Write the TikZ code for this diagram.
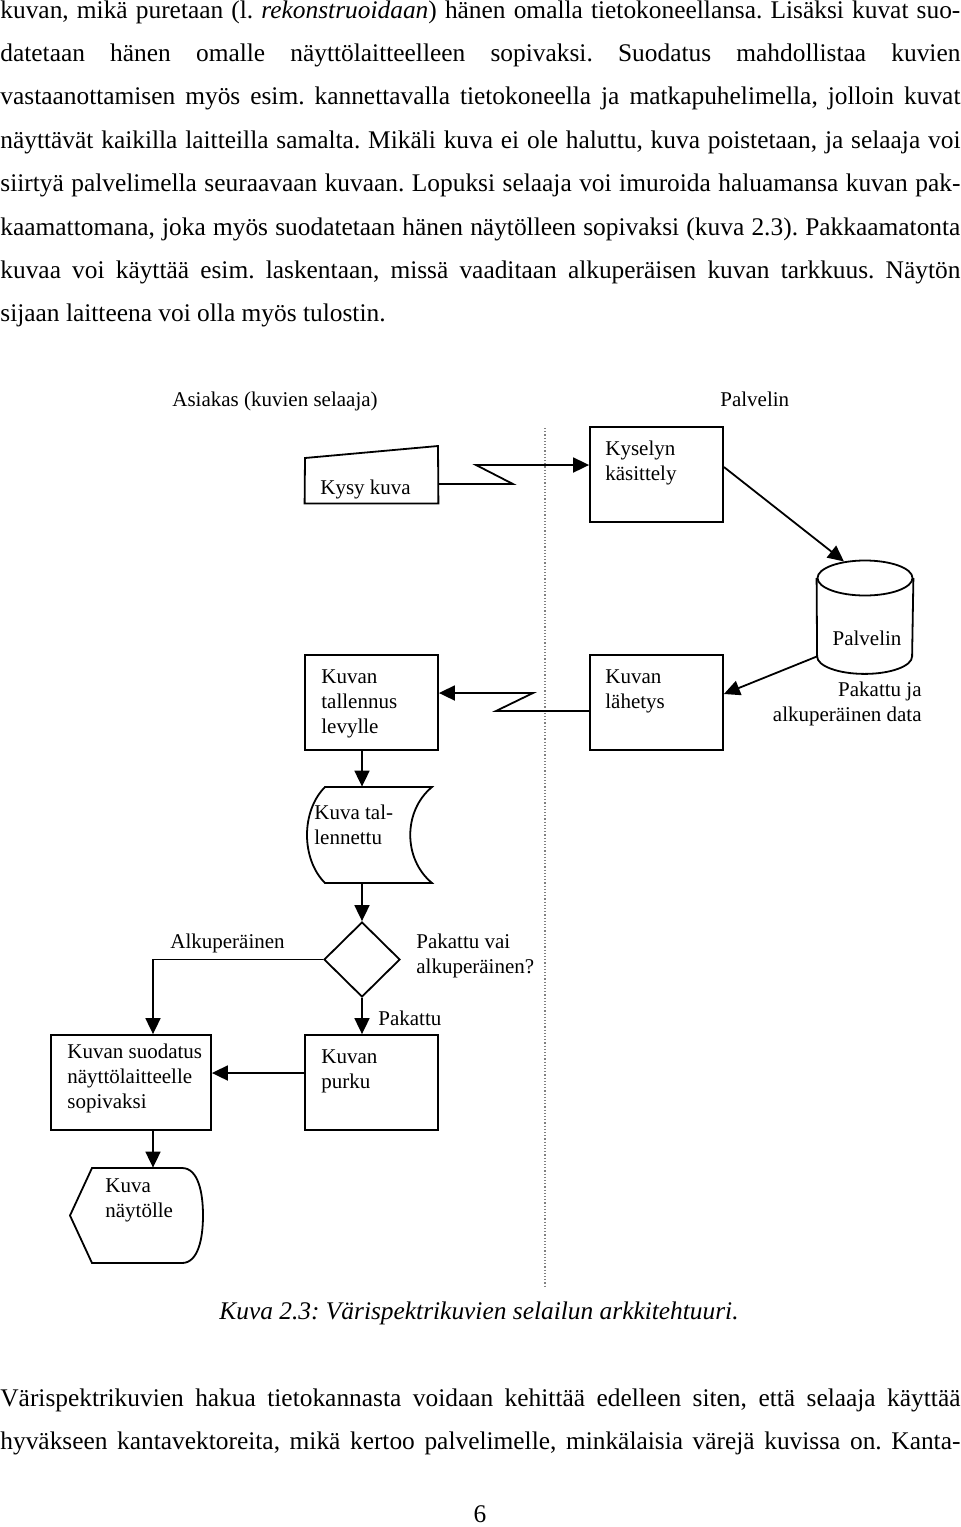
\documentclass[tikz,border=0pt]{standalone}
\usepackage{fontspec}
\setmainfont{Liberation Serif}
\usetikzlibrary{arrows.meta,shapes.geometric,calc}

\frenchspacing
\newcommand\textfnt{\fontsize{12.7pt}{21.65pt}\selectfont}
\newcommand\diagfnt{\fontsize{10.5pt}{12.5pt}\selectfont}
\newcommand\fullline[1]{\hbox to 480pt{#1}}

\tikzset{
  conn/.style={line width=0.9pt,-{Triangle[length=8pt,width=7.5pt]}},
  outline/.style={line width=0.9pt},
  procbox/.style={draw,line width=0.9pt,minimum width=66.5pt,minimum height=47.5pt,inner sep=0pt},
  ghost/.style={inner sep=0pt},
  boxtext/.style={anchor=base west,align=left,inner sep=0pt,font=\diagfnt},
  bodyline/.style={anchor=base west,inner sep=0pt,font=\textfnt},
}

\begin{document}
\begin{tikzpicture}[x=0.5pt,y=0.5pt]
\useasboundingbox (0,0) rectangle (960,-1527);

% text above the figure
\foreach \ln [count=\n] in {{kuvan, mikä puretaan (l. \textit{rekonstruoidaan}) hänen omalla tietokoneellansa. Lisäksi kuvat suo-},
  {datetaan hänen omalle näyttölaitteelleen sopivaksi. Suodatus mahdollistaa kuvien},
  {vastaanottamisen myös esim. kannettavalla tietokoneella ja matkapuhelimella, jolloin kuvat},
  {näyttävät kaikilla laitteilla samalta. Mikäli kuva ei ole haluttu, kuva poistetaan, ja selaaja voi},
  {siirtyä palvelimella seuraavaan kuvaan. Lopuksi selaaja voi imuroida haluamansa kuvan pak-},
  {kaamattomana, joka myös suodatetaan hänen näytölleen sopivaksi (kuva 2.3). Pakkaamatonta},
  {kuvaa voi käyttää esim. laskentaan, missä vaaditaan alkuperäisen kuvan tarkkuus. Näytön}}
  \node[bodyline] (ylarivi\n) at (0,{-18-43.4*(\n-1)}) {\fullline{\ln}};
\node[bodyline] (ylarivi8) at (0,-321.8) {sijaan laitteena voi olla myös tulostin.};

% lanes
\node[boxtext] (asiakas) at (172,-406) {Asiakas (kuvien selaaja)};
\node[boxtext] (palvelinpuoli) at (720,-406) {Palvelin};
\draw[densely dotted,line width=0.6pt,gray] (545,-428) -- (545,-1287);

% request (text anchors sit on the last line)
\node[ghost,minimum width=66.5pt,minimum height=19pt] (kysy) at (371.5,-484) {};
\draw[outline] (kysy.south west) -- (kysy.south east) -- (438,-446) -- (305,-458) -- cycle;
\node[boxtext] at (320,-494) {Kysy kuva};

\node[procbox] (kysely) at (656.5,-474.5) {};
\node[boxtext] at (605,-480) {Kyselyn\\käsittely};

\coordinate (salama1a) at (513,-484);
\coordinate (salama1b) at (476,-465);
\draw[conn] (kysy.east) -- (salama1a) -- (salama1b) -- (salama1b -| kysely.west);

% server database
\node[ellipse,draw,line width=0.9pt,minimum width=47.5pt,minimum height=17.5pt,inner sep=0pt] (kanta) at (865,-578) {};
\node[ghost,minimum width=47.5pt,minimum height=39pt] (kantarunko) at (865,-617) {};
\draw[outline] (kanta.west) -- (kantarunko.south west) arc[start angle=180,end angle=360,x radius=23.75pt,y radius=8.75pt] -- (kanta.east);
\node[font=\diagfnt,anchor=base,inner sep=0pt] at (867,-645) {Palvelin};
\node[font=\diagfnt,align=right,anchor=base east,inner sep=0pt] (kantateksti) at (922,-721) {Pakattu ja\\alkuperäinen data};
\draw[conn] ([yshift=3.75pt]kysely.east) -- (kanta);

% sending
\node[procbox] (lahetys) at (656.5,-702.5) {};
\node[boxtext] at (605,-708) {Kuvan\\lähetys};
\draw[conn] (kantarunko.south west) -- ([yshift=4.25pt]lahetys.east);

\node[procbox] (tallennus) at (371.5,-702.5) {};
\node[boxtext] at (321,-733) {Kuvan\\tallennus\\levylle};

\coordinate (salama2a) at (496,-711);
\coordinate (salama2b) at (533,-693);
\draw[conn] ([yshift=-4.25pt]lahetys.west) -- (salama2a) -- (salama2b) -- (salama2b -| tallennus.east);

% stored
\node[ghost,minimum width=62.5pt,minimum height=48pt] (tallennettu) at (369.5,-835) {};
\draw[outline] (325,-787) -- (432,-787) .. controls (403,-811) and (403,-859) .. (432,-883) -- (325,-883) .. controls (301,-859) and (301,-811) .. (325,-787) -- cycle;
\node[boxtext] at (314,-844) {Kuva tal-\\lennettu};
\draw[conn] ([xshift=-4.75pt]tallennus.south) -- ([xshift=-3.75pt]tallennettu.north);

% decision
\node[diamond,draw,line width=0.9pt,minimum width=38pt,minimum height=37.5pt,inner sep=0pt,aspect=1] (valinta) at (362,-959.5) {};
\draw[conn] ([xshift=-3.75pt]tallennettu.south) -- (valinta.north);
\node[boxtext] at (416,-973) {Pakattu vai\\alkuperäinen?};

\node[procbox,minimum width=80pt] (suodatus) at (131,-1082.5) {};
\node[boxtext] at (67,-1108) {Kuvan suodatus\\näyttölaitteelle\\sopivaksi};
\draw[conn] (valinta.west) -| ([xshift=11pt]suodatus.north);
\node[boxtext] at (170,-948) {Alkuperäinen};

\node[procbox] (purku) at (371.5,-1082.5) {};
\node[boxtext] at (321,-1088) {Kuvan\\purku};
\draw[conn] (valinta.south) -- ([xshift=-4.75pt]purku.north);
\node[boxtext] at (378,-1025) {Pakattu};
\draw[conn] ([yshift=4.75pt]purku.west) -- ([yshift=4.75pt]suodatus.east);

% display
\node[ghost,minimum width=66.5pt,minimum height=47.5pt] (naytto) at (136.5,-1215.5) {};
\draw[outline] (92,-1168) -- (182,-1168) .. controls (198,-1168) and (203,-1192) .. (203,-1215.5) .. controls (203,-1239) and (198,-1263) .. (182,-1263) -- (92,-1263) -- (70,-1215.5) -- cycle;
\node[boxtext] at (105,-1217) {Kuva\\näytölle};
\draw[conn] ([xshift=11pt]suodatus.south) -- ([xshift=8.25pt]naytto.north);

% caption and text below
\node[font=\textfnt\itshape,anchor=base,inner sep=0pt] (kuvateksti) at (479,-1319) {Kuva 2.3: Värispektrikuvien selailun arkkitehtuuri.};
\node[bodyline] (alarivi1) at (0,-1406) {\fullline{Värispektrikuvien hakua tietokannasta voidaan kehittää edelleen siten, että selaaja käyttää}};
\node[bodyline] (alarivi2) at (0,-1449.4) {\fullline{hyväkseen kantavektoreita, mikä kertoo palvelimelle, minkälaisia värejä kuvissa on. Kanta-}};
\node[font=\textfnt,anchor=base,inner sep=0pt] (sivunumero) at (480,-1522) {6};
\end{tikzpicture}
\end{document}
